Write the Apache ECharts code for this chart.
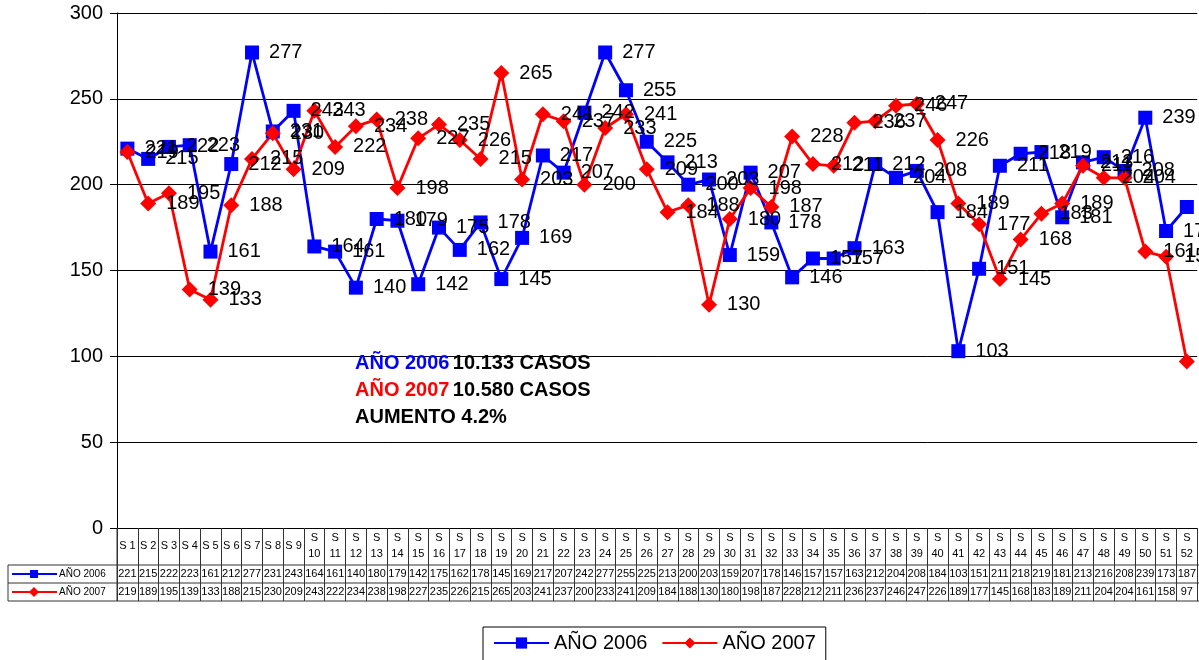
<!DOCTYPE html>
<html><head><meta charset="utf-8">
<script src="https://cdn.jsdelivr.net/npm/echarts@6/dist/echarts.min.js"></script>
<style>html,body{margin:0;padding:0;background:#fff}#c{width:1199px;height:660px}</style>
</head><body><div id="c"></div>
<script>
var weeks = ['S 1','S 2','S 3','S 4','S 5','S 6','S 7','S 8','S 9','S 10','S 11','S 12','S 13','S 14','S 15','S 16','S 17','S 18','S 19','S 20','S 21','S 22','S 23','S 24','S 25','S 26','S 27','S 28','S 29','S 30','S 31','S 32','S 33','S 34','S 35','S 36','S 37','S 38','S 39','S 40','S 41','S 42','S 43','S 44','S 45','S 46','S 47','S 48','S 49','S 50','S 51','S 52'];
var y2006 = [221,215,222,223,161,212,277,231,243,164,161,140,180,179,142,175,162,178,145,169,217,207,242,277,255,225,213,200,203,159,207,178,146,157,157,163,212,204,208,184,103,151,211,218,219,181,213,216,208,239,173,187];
var y2007 = [219,189,195,139,133,188,215,230,209,243,222,234,238,198,227,235,226,215,265,203,241,237,200,233,241,209,184,188,130,180,198,187,228,212,211,236,237,246,247,226,189,177,145,168,183,189,211,204,204,161,158,97];
var yTicks = [0,50,100,150,200,250,300];
var name2006 = 'AÑO 2006', name2007 = 'AÑO 2007';
var total2006 = '10.133 CASOS', total2007 = '10.580 CASOS', aumento = 'AUMENTO 4.2%';

var FONT = 'Liberation Sans, Arial, sans-serif';
var chart = echarts.init(document.getElementById('c'));
var gridL = 117, gridT = 13, gridB = 132;
function tableAxis(data, margin) {
  return {type:'category', data:data, position:'bottom', gridIndex:0,
    axisLine:{show:false}, axisTick:{show:false}, splitLine:{show:false},
    axisLabel:{interval:0, margin:margin, verticalAlign:'middle', fontSize:11, color:'#000', fontFamily:FONT}};
}
var option = {
  animation:false,
  grid:{left:gridL, right:0, top:gridT, bottom:gridB, containLabel:false},
  xAxis:[
    {type:'category', data:weeks, boundaryGap:true,
     axisLine:{show:true, lineStyle:{color:'#000', width:1}},
     axisTick:{show:true, interval:0, length:73, lineStyle:{color:'#333', width:1}},
     axisLabel:{interval:0, margin:18, verticalAlign:'middle', fontSize:11, lineHeight:16, color:'#000', fontFamily:FONT,
       formatter:function(v){ var n=v.slice(2); return n.length>1 ? 'S\n'+n : v; }}},
    tableAxis(y2006.map(String), 46),
    tableAxis(y2007.map(String), 64)
  ],
  yAxis:{type:'value', min:yTicks[0], max:yTicks[yTicks.length-1], interval:50,
    axisLine:{show:true, lineStyle:{color:'#000'}},
    axisTick:{show:true, length:7, lineStyle:{color:'#000'}},
    splitLine:{show:true, lineStyle:{color:'#000', width:1}},
    axisLabel:{fontSize:20, color:'#000', margin:14, fontFamily:FONT}},
  legend:{top:627, left:483, orient:'horizontal',
    data:[name2006, name2007], itemWidth:55, itemHeight:14, itemGap:14,
    borderColor:'#000', borderWidth:1, padding:[6,10,14,10],
    textStyle:{fontSize:20, color:'#000', fontFamily:FONT}},
  series:[
    {name:name2006, type:'line', data:y2006, symbol:'rect', symbolSize:14,
     lineStyle:{color:'#0000FF', width:2.8}, itemStyle:{color:'#0000FF'},
     label:{show:true, position:'right', distance:10, fontSize:20, color:'#000', fontFamily:FONT}},
    {name:name2007, type:'line', data:y2007, symbol:'diamond', symbolSize:16,
     lineStyle:{color:'#FF0000', width:2.8}, itemStyle:{color:'#FF0000'},
     label:{show:true, position:'right', distance:10, fontSize:20, color:'#000', fontFamily:FONT}}
  ]
};
chart.setOption(option);

function drawTable(){
  var yTop = chart.convertToPixel({yAxisIndex:0}, 0);
  var r1 = yTop + 37, r2 = r1 + 18, r3 = r2 + 18;
  var xL = gridL, xR = 1199, xT = 8;
  var ln = function(x1,y1,x2,y2){ return {type:'line', shape:{x1:x1,y1:y1,x2:x2,y2:y2}, style:{stroke:'#333', lineWidth:1}, silent:true}; };
  var els = [
    ln(xT, r1, xR, r1), ln(xT, r2, xR, r2), ln(xT, r3, xR, r3),
    ln(xT, r1, xT, r3), ln(xL, yTop, xL, r3)
  ];
  function key(y, color, sym, name){
    els.push({type:'line', shape:{x1:12,y1:y,x2:57,y2:y}, style:{stroke:color, lineWidth:2}, silent:true});
    if (sym==='rect') els.push({type:'rect', shape:{x:30,y:y-4,width:8,height:8}, style:{fill:color}, silent:true});
    else els.push({type:'polygon', shape:{points:[[34,y-5],[39,y],[34,y+5],[29,y]]}, style:{fill:color}, silent:true});
    els.push({type:'text', x:59, y:y, style:{text:name, fontSize:10, fill:'#000', fontFamily:FONT, verticalAlign:'middle'}, silent:true});
  }
  key((r1+r2)/2, '#0000FF', 'rect', name2006);
  key((r2+r3)/2, '#FF0000', 'diamond', name2007);
  var st = {fontSize:20, fontWeight:'bold', fontFamily:FONT, lineHeight:27};
  els.push({type:'text', x:355, y:350, style:{
    text:'{b|'+name2006+'} {k|'+total2006+'}\n{r|'+name2007+'} {k|'+total2007+'}\n{k|'+aumento+'}',
    rich:{b:Object.assign({fill:'#0000FF'}, st), r:Object.assign({fill:'#FF0000'}, st), k:Object.assign({fill:'#000'}, st)},
    verticalAlign:'top'}, silent:true});
  chart.setOption({graphic:{elements:els}});
}
drawTable();
</script></body></html>
